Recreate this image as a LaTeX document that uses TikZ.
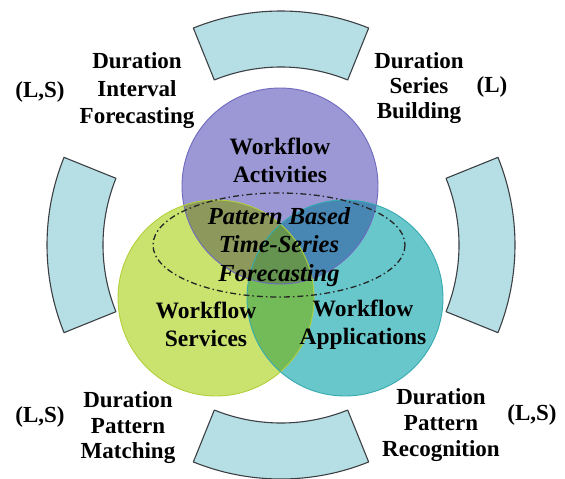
\documentclass[tikz,border=0pt]{standalone}
\usepackage{fontspec}
\setmainfont{Liberation Serif}
\definecolor{segfill}{RGB}{182,223,229}
\definecolor{segline}{RGB}{60,64,68}
\definecolor{cP}{RGB}{156,152,214}
\definecolor{cPb}{RGB}{110,106,190}
\definecolor{cG}{RGB}{202,226,110}
\definecolor{cGb}{RGB}{178,208,60}
\definecolor{cT}{RGB}{104,199,203}
\definecolor{cTb}{RGB}{55,170,175}
\definecolor{cPG}{RGB}{140,152,92}
\definecolor{cPT}{RGB}{72,135,180}
\definecolor{cGT}{RGB}{115,186,88}
\definecolor{cPGT}{RGB}{100,148,80}
\tikzset{
  segbox/.style={fill=segfill,draw=segline,line width=1.1pt,line join=round},
  outerlbl/.style={font=\bfseries\fontsize{23}{26}\selectfont,align=center,inner sep=0pt},
  innerlbl/.style={font=\bfseries\fontsize{23.5}{28}\selectfont,align=center,inner sep=0pt},
  tag/.style={font=\bfseries\fontsize{23}{26}\selectfont,inner sep=0pt},
}
\begin{document}
\begin{tikzpicture}[x=1pt,y=-1pt]
\useasboundingbox (0,0) rectangle (565,479);
\fill[white] (0,0) rectangle (565,479);
\coordinate (C) at (281,245);
\def\Ro{234}
\def\Ri{178}
% ring segments
\foreach \a in {270,180,0,90}{
  \draw[segbox] ([shift={(\a-22:\Ro)}]C) arc[start angle=\a-22,end angle=\a+22,radius=\Ro]
     -- ([shift={(\a+22:\Ri)}]C) arc[start angle=\a+22,end angle=\a-22,radius=\Ri] -- cycle;
}
% circles
\coordinate (P) at (280,186);
\coordinate (G) at (216,298);
\coordinate (T) at (345,298);
\def\R{98}
\fill[cP] (P) circle (\R);
\fill[cG] (G) circle (\R);
\fill[cT] (T) circle (\R);
\begin{scope}\clip (P) circle (\R); \fill[cPG] (G) circle (\R); \end{scope}
\begin{scope}\clip (P) circle (\R); \fill[cPT] (T) circle (\R); \end{scope}
\begin{scope}\clip (G) circle (\R); \fill[cGT] (T) circle (\R); \end{scope}
\begin{scope}\clip (P) circle (\R); \clip (G) circle (\R); \fill[cPGT] (T) circle (\R); \end{scope}
\draw[cPb,line width=0.9pt] (P) circle (\R);
\draw[cGb,line width=0.9pt] (G) circle (\R);
\draw[cTb,line width=0.9pt] (T) circle (\R);
% dash-dot ellipse
\draw[black!85,line width=1.3pt,dash pattern=on 6pt off 3pt on 1.5pt off 3pt] (279,245) ellipse [x radius=126,y radius=52];
% inner labels
\node[innerlbl] (act) at (280,160) {Workflow\\Activities};
\node[innerlbl] (srv) at (206,324) {Workflow\\Services};
\node[innerlbl] (app) at (363,325) {Workflow\\Applications};
\node[font=\bfseries\itshape\fontsize{24.5}{28.5}\selectfont,align=center,inner sep=0pt] (pbf) at (279,247) {Pattern Based\\Time-Series\\Forecasting};
% outer labels
\node[outerlbl,font=\bfseries\fontsize{23}{27.5}\selectfont] (dif) at (137,91) {Duration\\Interval\\Forecasting};
\node[outerlbl,font=\bfseries\fontsize{23}{25}\selectfont] (dsb) at (419,88) {Duration\\Series\\Building};
\node[outerlbl,font=\bfseries\fontsize{23}{25.5}\selectfont] (dpm) at (128,428) {Duration\\Pattern\\Matching};
\node[outerlbl,font=\bfseries\fontsize{23}{26}\selectfont] (dpr) at (441,425) {Duration\\Pattern\\Recognition};
\node[tag] (t1) at (40,92) {(L,S)};
\node[tag] (t2) at (492,87) {(L)};
\node[tag] (t3) at (40,417) {(L,S)};
\node[tag] (t4) at (532,415) {(L,S)};
\end{tikzpicture}
\end{document}
